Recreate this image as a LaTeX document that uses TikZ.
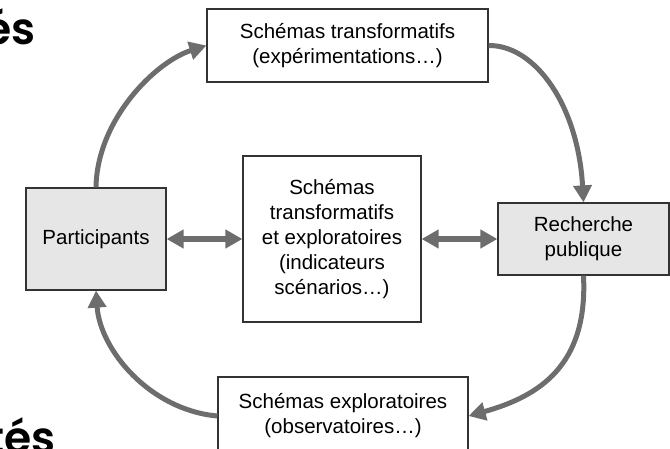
\documentclass[tikz,border=0pt]{standalone}
\usepackage{fontspec}
\setmainfont{Liberation Sans}
\newfontfamily\headfont{Poppins SemiBold}
\usetikzlibrary{arrows.meta}
\definecolor{arrowgray}{HTML}{6D6D6D}
\definecolor{boxfill}{HTML}{E6E6E6}
\definecolor{boxline}{HTML}{333333}
\tikzset{
  box/.style={draw=boxline, line width=1.2pt, fill=white, align=center,
    inner sep=0pt, text=black,
    font=\fontsize{20.5pt}{25pt}\selectfont},
  graybox/.style={box, fill=boxfill},
  cycle/.style={draw=arrowgray, line width=5pt,
    -{Triangle[length=17pt,width=18pt]}},
  both/.style={draw=arrowgray, line width=6pt,
    {Triangle[length=17pt,width=18pt]}-{Triangle[length=17pt,width=18pt]}},
  heading/.style={inner sep=0pt, text=black,
    font=\headfont\fontsize{44pt}{50pt}\selectfont}
}
\begin{document}
\begin{tikzpicture}[x=1pt, y=-1pt]
  \useasboundingbox (0,0) rectangle (670,449);
  \clip (0,0) rectangle (670,449);

  % section headings, partly outside the frame
  \node[heading, anchor=base east] (headtop) at (36,45) {és};
  \node[heading, anchor=base east] (headbot) at (56,453) {tés};

  % boxes
  \node[box, minimum width=281pt, minimum height=73pt] (top) at (347.5,45.5)
    {Schémas transformatifs\\(expérimentations…)};
  \node[box, minimum width=250pt, minimum height=78pt] (bot) at (343,416)
    {Schémas exploratoires\\(observatoires…)};
  \node[graybox, minimum width=140pt, minimum height=102pt] (part) at (96,239)
    {Participants};
  \node[graybox, minimum width=171pt, minimum height=72pt] (rech) at (583.5,239)
    {Recherche\\publique};
  \node[box, minimum width=178pt, minimum height=166pt] (mid) at (332,239)
    {Schémas\\transformatifs\\et exploratoires\\(indicateurs\\scénarios…)};

  % exchanges with the central box
  \draw[both] (part.east) -- (mid.west);
  \draw[both] (mid.east) -- (rech.west);

  % outer cycle
  \draw[cycle] (part.north) .. controls (97,120) and (155,62) .. (top.west);
  \draw[cycle] (top.east) .. controls (535,45) and (578,105) .. (rech.north);
  \draw[cycle] (rech.south) .. controls (588,365) and (540,396) .. (bot.east);
  \draw[cycle] (bot.west) .. controls (150,410) and (100,350) .. (part.south);
\end{tikzpicture}
\end{document}
